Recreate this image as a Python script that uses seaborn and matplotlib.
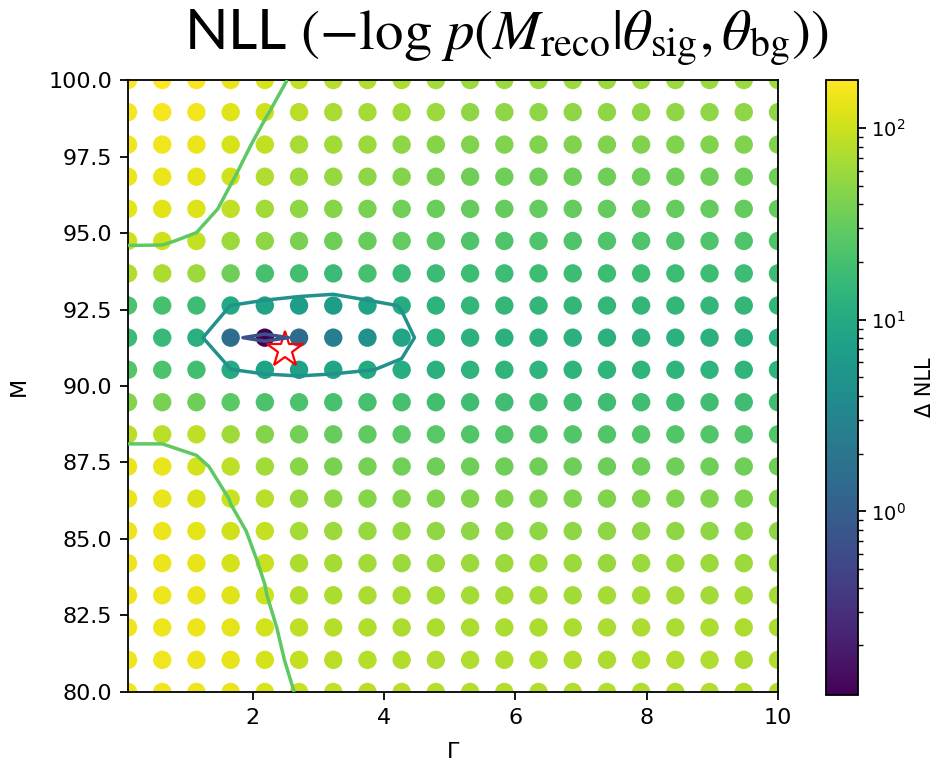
import numpy as np
import pandas as pd
import matplotlib
matplotlib.use("Agg")
import matplotlib.pyplot as plt
import seaborn as sns
from matplotlib.colors import LogNorm
from matplotlib.cm import ScalarMappable

# Scan grid (Gamma along x, M along y)
gamma = [0.100, 0.621, 1.142, 1.663, 2.184, 2.705, 3.226, 3.747, 4.268, 4.789,
         5.311, 5.832, 6.353, 6.874, 7.395, 7.916, 8.437, 8.958, 9.479, 10.000]
mass = [80.00, 81.05, 82.11, 83.16, 84.21, 85.26, 86.32, 87.37, 88.42, 89.47,
        90.53, 91.58, 92.63, 93.68, 94.74, 95.79, 96.84, 97.89, 98.95, 100.00]

# Delta NLL, one row per mass value (low -> high)
delta_nll = [
    [148, 150, 146, 138, 118, 97, 88, 84, 80, 78, 77, 76, 76, 75, 76, 76, 76, 75, 76, 76],
    [148, 150, 144, 134, 112, 91, 83, 79, 76, 74, 73, 73, 73, 73, 72, 73, 73, 73, 72, 73],
    [146, 148, 142, 130, 108, 85, 79, 75, 72, 71, 71, 70, 71, 71, 70, 71, 70, 71, 71, 70],
    [145, 146, 138, 124, 101.5, 76.5, 72, 69, 67, 66, 65, 65, 65, 64, 65, 65, 65, 64, 65, 65],
    [144, 144, 134, 112, 97, 72, 66, 63, 60, 59, 58, 58, 58, 58, 57, 58, 58, 58, 58, 58],
    [142, 142, 130, 105, 94, 66, 58, 55, 53, 52, 51, 51, 51, 51, 50, 51, 51, 51, 51, 51],
    [140, 140, 118, 99, 80, 57, 50, 47, 45, 44, 44, 44, 44, 43, 44, 44, 44, 44, 43, 44],
    [138, 138, 108, 86, 63, 48, 40, 38, 36, 35, 35, 35, 35, 35, 34, 35, 35, 35, 35, 35],
    [84, 84, 85, 62, 45, 37, 32, 29, 27, 26, 24, 24, 24, 24, 24, 24, 24, 24, 24, 24],
    [45, 40, 35, 27, 22, 22, 21, 20, 20, 19, 18.5, 18.5, 18.5, 18.5, 18.5, 18.5, 18.5, 18.5, 18.5, 18.5],
    [24, 22, 19, 10.2, 8.2, 7.2, 8.4, 9.8, 10.8, 12.5, 13.5, 13.5, 13.5, 13.5, 13.5, 13.5, 13.5, 13.5, 13.5, 13.5],
    [17, 16, 12, 1.5, 0.11, 1.4, 2.5, 4.5, 8.5, 12.5, 12.5, 12.5, 12.5, 12.5, 12.5, 12.5, 12.5, 12.5, 12.5, 12.5],
    [22, 20, 18, 9.9, 8, 6.5, 6.5, 8, 10.3, 13, 14.5, 14.5, 14.5, 14.5, 14.5, 14.5, 14.5, 14.5, 14.5, 14.5],
    [75, 72, 58, 35, 20, 19, 16.5, 20, 17, 17, 17.5, 17.5, 17.5, 17.5, 17.5, 17.5, 17.5, 17.5, 17.5, 17.5],
    [104, 104, 93, 60, 50, 40, 35, 32, 30, 27, 23, 23, 23, 23, 23, 23, 23, 23, 23, 23],
    [130, 128, 120, 88, 63, 51, 47, 40, 36, 33, 31, 31, 31, 31, 31, 31, 31, 31, 31, 31],
    [145, 143, 135, 104, 73, 60, 55, 50, 45, 40, 35, 35, 35, 35, 35, 35, 35, 35, 35, 35],
    [150, 150, 145, 115, 90, 68, 63, 58, 50, 47, 44, 44, 44, 44, 44, 44, 44, 44, 44, 44],
    [160, 162, 155, 125, 103, 80, 68, 65, 62, 58, 51, 51, 51, 51, 51, 51, 51, 51, 51, 51],
    [170, 178, 168, 140, 115, 92, 80, 74, 70, 66, 58, 58, 58, 58, 58, 58, 58, 58, 58, 58],
]

# True Z parameters (star)
gamma_true = 2.4952
mass_true = 91.1876

contour_levels = [0.1, 1, 10, 100, 1000]

Z = np.array(delta_nll, dtype=float)
G, M = np.meshgrid(gamma, mass)
df = pd.DataFrame({'Gamma': G.ravel(), 'M': M.ravel(), 'dNLL': Z.ravel()})

plt.rcParams['font.size'] = 16
plt.rcParams['axes.linewidth'] = 1.3

fig = plt.figure(figsize=(9.47, 7.6), dpi=100)
ax = fig.add_axes([0.1352, 0.0895, 0.6863, 0.8052])
cax = fig.add_axes([0.872, 0.0855, 0.034, 0.809])

sns.scatterplot(data=df, x='Gamma', y='M', hue='dNLL',
                hue_norm=LogNorm(vmin=Z.min(), vmax=Z.max()),
                palette='viridis', s=175, linewidth=0, legend=False,
                ax=ax, zorder=1)
ax.plot(gamma_true, mass_true, marker='*', ms=27, mfc='none', mec='red',
        mew=1.6, ls='none', zorder=2)
ax.contour(G, M, Z, levels=contour_levels, norm=LogNorm(0.1, 1000),
           cmap='viridis', linewidths=2.5, zorder=3)

ax.set_xlim(0.1, 10)
ax.set_ylim(80, 100)
ax.set_xlabel('Γ', labelpad=10)
ax.set_ylabel('M', labelpad=14)
ax.tick_params(length=5.7, width=1.3, pad=5.7)

cb = fig.colorbar(ScalarMappable(norm=LogNorm(vmin=Z.min(), vmax=Z.max()), cmap='viridis'),
                  cax=cax)
cb.set_label('Δ NLL', fontsize=15, labelpad=6)
cax.tick_params(which='major', length=5.7, width=1.3, pad=4, labelsize=14)
cax.tick_params(which='minor', length=3.3, width=1.0)

fig.text(0.535, 0.950,
         r'NLL $(-\log\,p(M_{\rm reco}|\theta_{\rm sig},\theta_{\rm bg}))$',
         ha='center', va='center', fontsize=41, family='Lato',
         math_fontfamily='stix')

fig.savefig('out.png', dpi=100)
